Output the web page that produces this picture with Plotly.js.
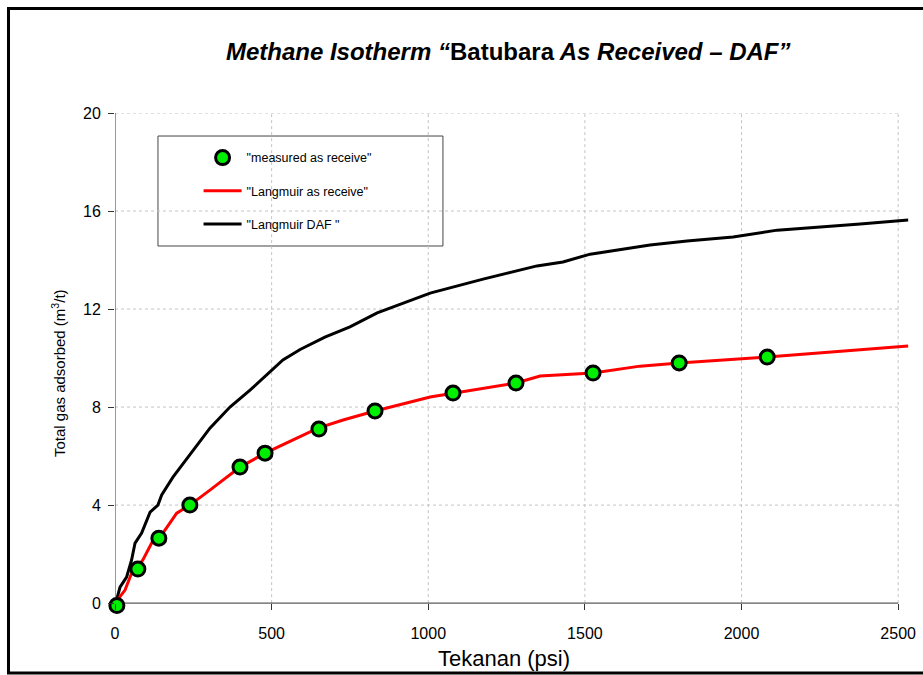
<!DOCTYPE html>
<html>
<head>
<meta charset="utf-8">
<script src="https://cdn.plot.ly/plotly-3.0.1.min.js"></script>
<style>html,body{margin:0;padding:0;background:#fff}#chart{width:923px;height:675px}</style>
</head>
<body>
<div id="chart"></div>
<script>
// Measured data (as received)
const measuredP = [6, 73, 140, 239, 399, 479, 651, 830, 1079, 1280, 1526, 1801, 2082];
const measuredV = [-0.1, 1.39, 2.65, 4.0, 5.55, 6.12, 7.10, 7.84, 8.57, 8.98, 9.39, 9.80, 10.04];

// Langmuir as received curve
const arP = [0, 32, 53, 89, 117, 144, 197, 239, 303, 399, 479, 568, 648, 728, 830, 1006, 1079, 1188, 1280, 1357, 1526, 1676, 1801, 2082, 2532];
const arV = [0, 0.53, 1.22, 1.76, 2.45, 2.69, 3.67, 4.0, 4.61, 5.55, 6.12, 6.65, 7.14, 7.47, 7.84, 8.41, 8.57, 8.78, 8.98, 9.27, 9.39, 9.67, 9.80, 10.04, 10.49];

// Langmuir DAF curve
const dafP = [0, 5, 16, 37, 53, 64, 85, 101, 112, 137, 149, 185, 249, 303, 367, 431, 536, 591, 670, 750, 837, 1006, 1175, 1347, 1430, 1517, 1708, 1826, 1973, 2114, 2379, 2532];
const dafV = [0, 0.12, 0.65, 1.06, 1.76, 2.45, 2.86, 3.39, 3.71, 4.0, 4.41, 5.14, 6.24, 7.14, 8.0, 8.69, 9.92, 10.35, 10.85, 11.27, 11.84, 12.65, 13.22, 13.76, 13.92, 14.24, 14.61, 14.78, 14.94, 15.22, 15.47, 15.63];

const xTicks = [0, 500, 1000, 1500, 2000, 2500];
const yTicks = [0, 4, 8, 12, 16, 20];

const FONT = '"Liberation Sans", Arial, sans-serif';

const traces = [
  {x: dafP, y: dafV, mode: 'lines', name: '"Langmuir DAF "', line: {color: '#000000', width: 3},
   legendgroup: 'c', legendrank: 3},
  {x: arP, y: arV, mode: 'lines', name: '"Langmuir as receive"', line: {color: '#ff0000', width: 3},
   legendgroup: 'b', legendrank: 2},
  {x: measuredP, y: measuredV, mode: 'markers', name: '"measured as receive"',
   marker: {color: '#00ee00', size: 14, line: {color: '#000000', width: 3}},
   cliponaxis: false, legendgroup: 'a', legendrank: 1}
];

const shapes = [];
// grid lines
yTicks.filter(v => v > 0).forEach(v => shapes.push({type: 'line', xref: 'x', yref: 'y', x0: 0, x1: 2500, y0: v, y1: v,
  line: {color: '#c4c4c4', width: 1, dash: 'dot'}, layer: 'below'}));
xTicks.filter(v => v > 0).forEach(v => shapes.push({type: 'line', xref: 'x', yref: 'y', x0: v, x1: v, y0: 0, y1: 20,
  line: {color: '#c4c4c4', width: 1, dash: 'dot'}, layer: 'below'}));
// axis lines
shapes.push({type: 'line', xref: 'x', yref: 'y', x0: 0, x1: 2500, y0: 0, y1: 0, line: {color: '#333', width: 1}, layer: 'below'});
shapes.push({type: 'line', xref: 'x', yref: 'y', x0: 0, x1: 0, y0: 0, y1: 20, line: {color: '#333', width: 1}, layer: 'below'});
// legend box
shapes.push({type: 'rect', xref: 'paper', yref: 'paper', x0: 0.054, x1: 0.412, y0: 0.7313, y1: 0.9535,
  line: {color: '#444', width: 1}, fillcolor: 'rgba(0,0,0,0)', layer: 'below'});
// outer frame
shapes.push({type: 'rect', xref: 'paper', yref: 'paper', x0: -0.1338, x1: 1.03, y0: -0.1315, y1: 1.2111,
  line: {color: '#000', width: 3}, fillcolor: 'rgba(0,0,0,0)'});

const layout = {
  width: 923, height: 675,
  margin: {l: 115, r: 12, t: 113, b: 67.1},
  paper_bgcolor: '#fff', plot_bgcolor: '#fff',
  font: {family: FONT, color: '#000'},
  showlegend: true,
  legend: {x: 0.105, y: 0.9394, xanchor: 'left', yanchor: 'top', bgcolor: 'rgba(0,0,0,0)', borderwidth: 0,
    font: {size: 12.5, family: FONT, color: '#000'}, traceorder: 'grouped', tracegroupgap: 14, itemwidth: 38},
  title: {text: '<i>Methane Isotherm “</i>Batubara<i> As Received – DAF”</i>', x: 0.494, xref: 'paper', xanchor: 'center',
    y: 1 - 52 / 675, yref: 'container', yanchor: 'middle', font: {family: FONT, size: 24, weight: 'bold', color: '#000'}},
  xaxis: {range: [0, 2541], tickvals: xTicks, ticktext: xTicks.map(String), showgrid: false, zeroline: false,
    showline: false, anchor: 'free', position: 0.2 / 20.2, ticks: 'outside', ticklen: 6, tickcolor: '#333',
    tickfont: {size: 16, family: FONT, color: '#000'}, ticklabelstandoff: 10, fixedrange: true},
  yaxis: {range: [-0.2, 20], tickvals: yTicks, ticktext: yTicks.map(String), showgrid: false, zeroline: false,
    showline: false, ticks: 'outside', ticklen: 6, tickcolor: '#333',
    tickfont: {size: 16, family: FONT, color: '#000'}, ticklabelstandoff: 4, fixedrange: true},
  shapes: shapes,
  annotations: [
    {text: 'Tekanan (psi)', xref: 'paper', yref: 'paper', x: (504 - 115) / 796, y: (607.9 - 658) / 494.9,
     xanchor: 'center', yanchor: 'middle', showarrow: false, font: {size: 22, family: FONT, color: '#000'}},
    {text: 'Total gas adsorbed (m<sup>3</sup>/t)', xref: 'paper', yref: 'paper', x: (58 - 115) / 796, y: (607.9 - 373) / 494.9,
     xanchor: 'center', yanchor: 'middle', textangle: -90, showarrow: false, font: {size: 15, family: FONT, color: '#000'}}
  ]
};

Plotly.newPlot('chart', traces, layout, {displayModeBar: false, staticPlot: true});
</script>
</body>
</html>
